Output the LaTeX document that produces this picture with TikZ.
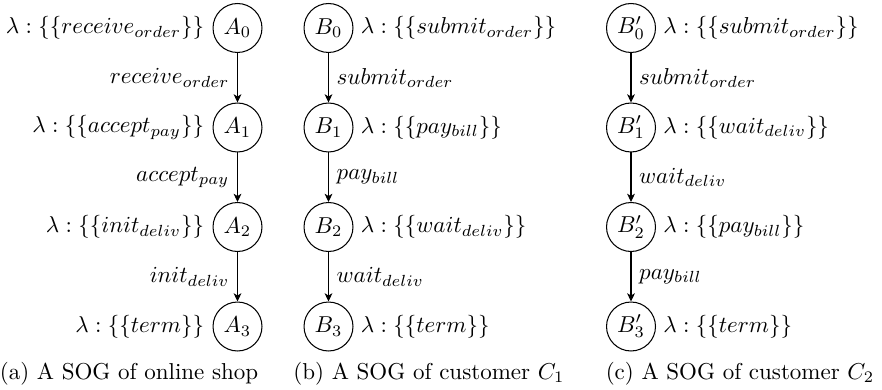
\documentclass[tikz,border=0pt]{standalone}
\usetikzlibrary{arrows.meta}
\begin{document}
\begin{tikzpicture}[x=0.435pt,y=-0.435pt,
  st/.style={draw,circle,minimum size=21.3pt,inner sep=0pt,line width=0.45pt},
  arr/.style={-{Stealth[length=3.6pt,width=3.4pt,inset=1pt]},line width=0.45pt},
  lamL/.style={anchor=east,inner sep=0pt},
  lamR/.style={anchor=west,inner sep=0pt},
  captext/.style={anchor=base,inner sep=0pt}]
\useasboundingbox (0,0) rectangle (882,389);
% column A
\node[st] (A0) at (237.5,28) {$A_0$};
\node[st] (A1) at (237.5,127.5) {$A_1$};
\node[st] (A2) at (237.5,227) {$A_2$};
\node[st] (A3) at (237.5,326.5) {$A_3$};
\node[lamL] (lA0) at ([xshift=-3.5pt]A0.west) {$\lambda:\{\{receive_{order}\}\}$};
\node[lamL] (lA1) at ([xshift=-3.5pt]A1.west) {$\lambda:\{\{accept_{pay}\}\}$};
\node[lamL] (lA2) at ([xshift=-3.5pt]A2.west) {$\lambda:\{\{init_{deliv}\}\}$};
\node[lamL] (lA3) at ([xshift=-3.5pt]A3.west) {$\lambda:\{\{term\}\}$};
\draw[arr] (A0) -- node[left] (eA0) {$receive_{order}$} (A1);
\draw[arr] (A1) -- node[left] (eA1) {$accept_{pay}$} (A2);
\draw[arr] (A2) -- node[left] (eA2) {$init_{deliv}$} (A3);
% column B
\node[st] (B0) at (328.5,28) {$B_0$};
\node[st] (B1) at (328.5,127.5) {$B_1$};
\node[st] (B2) at (328.5,227) {$B_2$};
\node[st] (B3) at (328.5,326.5) {$B_3$};
\node[lamR] (lB0) at ([xshift=3pt]B0.east) {$\lambda:\{\{submit_{order}\}\}$};
\node[lamR] (lB1) at ([xshift=3pt]B1.east) {$\lambda:\{\{pay_{bill}\}\}$};
\node[lamR] (lB2) at ([xshift=3pt]B2.east) {$\lambda:\{\{wait_{deliv}\}\}$};
\node[lamR] (lB3) at ([xshift=3pt]B3.east) {$\lambda:\{\{term\}\}$};
\draw[arr] (B0) -- node[right] (eB0) {$submit_{order}$} (B1);
\draw[arr] (B1) -- node[right] (eB1) {$pay_{bill}$} (B2);
\draw[arr] (B2) -- node[right] (eB2) {$wait_{deliv}$} (B3);
% column B'
\node[st] (C0) at (631,28) {$B'_0$};
\node[st] (C1) at (631,127.5) {$B'_1$};
\node[st] (C2) at (631,227) {$B'_2$};
\node[st] (C3) at (631,326.5) {$B'_3$};
\node[lamR] (lC0) at ([xshift=3pt]C0.east) {$\lambda:\{\{submit_{order}\}\}$};
\node[lamR] (lC1) at ([xshift=3pt]C1.east) {$\lambda:\{\{wait_{deliv}\}\}$};
\node[lamR] (lC2) at ([xshift=3pt]C2.east) {$\lambda:\{\{pay_{bill}\}\}$};
\node[lamR] (lC3) at ([xshift=3pt]C3.east) {$\lambda:\{\{term\}\}$};
\draw[arr] (C0) -- node[right] (eC0) {$submit_{order}$} (C1);
\draw[arr] (C1) -- node[right] (eC1) {$wait_{deliv}$} (C2);
\draw[arr] (C2) -- node[right] (eC2) {$pay_{bill}$} (C3);
% captions
\node[captext] (capa) at (129,379) {(a) A SOG of online shop};
\node[captext] (capb) at (429,379) {(b) A SOG of customer $C_1$};
\node[captext] (capc) at (740,379) {(c) A SOG of customer $C_2$};
\end{tikzpicture}
\end{document}
